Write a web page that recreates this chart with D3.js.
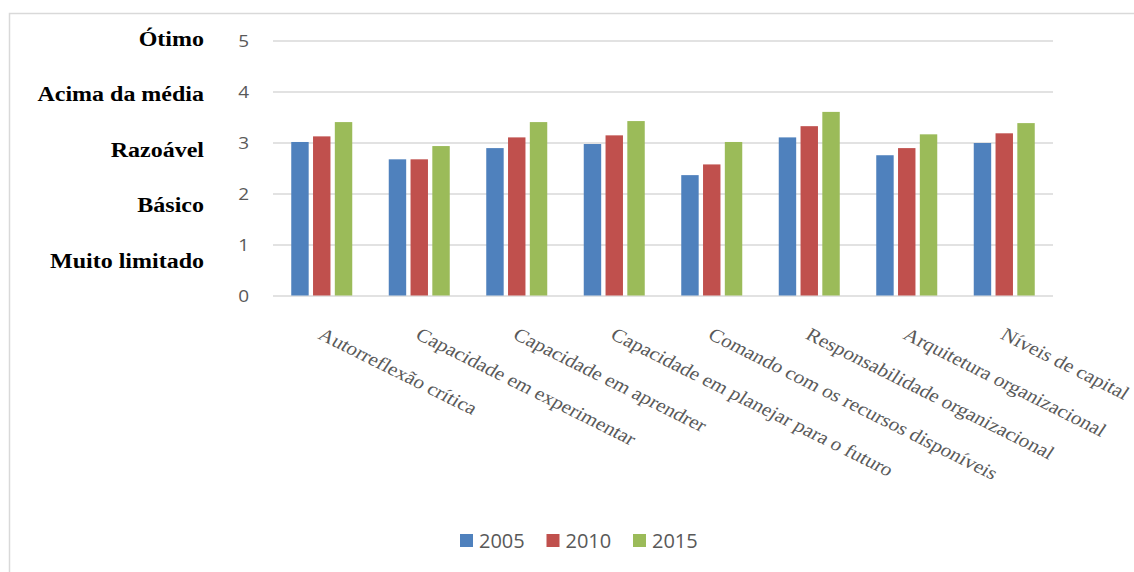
<!DOCTYPE html>
<html lang="pt">
<head>
  <meta charset="utf-8" />
  <title>Capacidades organizacionais 2005-2015</title>
  <script src="https://d3js.org/d3.v7.min.js"></script>
  <style>
    html, body {
      margin: 0;
      padding: 0;
      background: #fff;
      overflow: hidden;
    }
    .grid line { stroke: #d9d9d9; stroke-width: 1.5px; }
    .tick-num { font-family: "Open Sans", sans-serif; font-size: 16.5px; fill: #595959; }
    .level { font-family: "Liberation Serif", "Times New Roman", serif; font-weight: bold; font-size: 20px; fill: #000; }
    .cat { font-family: "Liberation Serif", "Times New Roman", serif; font-size: 18.5px; fill: #595959; }
    .legend text { font-family: "Open Sans", sans-serif; font-size: 20px; fill: #595959; }
  </style>
</head>
<body>
<script>
// categories (x axis)
const categories = [
  "Autorreflexão crítica",
  "Capacidade em experimentar",
  "Capacidade em aprendrer",
  "Capacidade em planejar para o futuro",
  "Comando com os recursos disponíveis",
  "Responsabilidade organizacional",
  "Arquitetura organizacional",
  "Níveis de capital"
];

// series, one per year
const years = ["2005", "2010", "2015"];
const v2005 = [3.02, 2.68, 2.90, 2.98, 2.37, 3.11, 2.76, 3.00];
const v2010 = [3.13, 2.68, 3.11, 3.15, 2.58, 3.33, 2.90, 3.19];
const v2015 = [3.41, 2.94, 3.41, 3.43, 3.02, 3.61, 3.17, 3.39];
const colors = ["#4f81bd", "#c0504d", "#9bbb59"];

// y ticks and their verbal levels
const yTicks = [0, 1, 2, 3, 4, 5];
const levelValues = [5, 4, 3, 2, 1];
const levelLabels = ["Ótimo", "Acima da média", "Razoável", "Básico", "Muito limitado"];

const series = [v2005, v2010, v2015];

const width = 1134, height = 572;
const margin = { left: 273, right: 81, top: 41, bottom: 276 };
// the source image is stretched horizontally, so is its text
const stretch = 1.2;

const svg = d3.select("body").append("svg")
  .attr("width", width)
  .attr("height", height);

// chart frame
svg.append("rect")
  .attr("x", 9.5).attr("y", 13.5)
  .attr("width", width + 20).attr("height", height + 20)
  .attr("fill", "none")
  .attr("stroke", "#d9d9d9")
  .attr("stroke-width", 1.5);

const x = d3.scaleBand()
  .domain(categories)
  .range([margin.left, width - margin.right]);

const groupW = 61;
const xInner = d3.scaleBand()
  .domain(years)
  .range([0, groupW])
  .paddingInner(0.2);

const y = d3.scaleLinear()
  .domain([0, 5])
  .range([height - margin.bottom, margin.top]);

// gridlines
svg.append("g")
  .attr("class", "grid")
  .selectAll("line")
  .data(yTicks)
  .join("line")
  .attr("x1", margin.left)
  .attr("x2", width - margin.right)
  .attr("y1", d => y(d))
  .attr("y2", d => y(d));

// numeric tick labels
svg.append("g")
  .selectAll("text")
  .data(yTicks)
  .join("text")
  .attr("class", "tick-num")
  .attr("transform", d => `translate(249,${y(d)}) scale(1.15,1)`)
  .attr("dy", "0.36em")
  .attr("text-anchor", "end")
  .text(d => d);

// verbal level labels (drift slightly below their ticks, like the original)
svg.append("g")
  .selectAll("text")
  .data(levelValues)
  .join("text")
  .attr("class", "level")
  .attr("transform", d => `translate(204,${y(d) + 5 + (5 - d) * 4.4}) scale(${stretch},1)`)
  .attr("text-anchor", "end")
  .text((d, i) => levelLabels[i]);

// bars
const groups = svg.append("g")
  .selectAll("g")
  .data(categories)
  .join("g")
  .attr("transform", c => `translate(${x(c) + x.bandwidth() / 2 - groupW / 2},0)`);

groups.selectAll("rect")
  .data((c, i) => series.map((s, k) => ({ year: years[k], value: s[i], k })))
  .join("rect")
  .attr("x", d => xInner(d.year))
  .attr("width", xInner.bandwidth())
  .attr("y", d => y(d.value))
  .attr("height", d => y(0) - y(d.value) - 0.5)
  .attr("fill", d => colors[d.k]);

// rotated category labels
svg.append("g")
  .selectAll("text")
  .data(categories)
  .join("text")
  .attr("class", "cat")
  .attr("transform", c => `translate(${x(c) + x.bandwidth() / 2 - 5},338) scale(1.16,1) rotate(30)`)
  .attr("text-anchor", "start")
  .text(c => c);

// legend
const legend = svg.append("g")
  .attr("class", "legend")
  .selectAll("g")
  .data(years)
  .join("g")
  .attr("transform", (d, i) => `translate(${460 + i * 86.5},534)`);

legend.append("rect")
  .attr("width", 13).attr("height", 13)
  .attr("fill", (d, i) => colors[i]);

legend.append("text")
  .attr("x", 19)
  .attr("y", 6.5)
  .attr("dy", "0.36em")
  .text(d => d);
</script>
</body>
</html>
